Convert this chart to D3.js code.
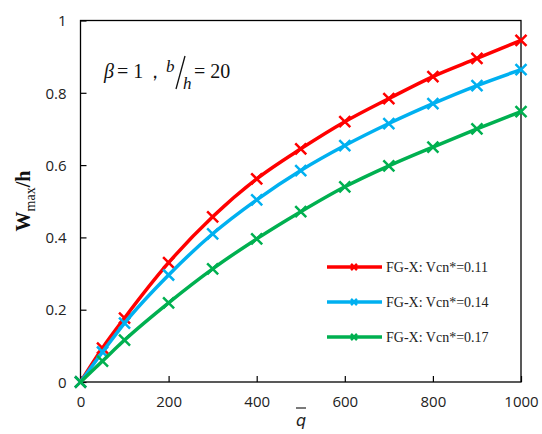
<!DOCTYPE html>
<html>
<head>
<meta charset="utf-8">
<script src="https://cdn.jsdelivr.net/npm/d3@7"></script>
<style>
  body { margin: 0; background: #fff; }
  text { font-family: "Liberation Sans", Arial, sans-serif; }
</style>
</head>
<body>
<div id="chart"></div>
<script>
// Chart data
var loadX = [0, 50, 100, 200, 300, 400, 500, 600, 700, 800, 900, 1000];
var seriesNames = ["FG-X: Vcn*=0.11", "FG-X: Vcn*=0.14", "FG-X: Vcn*=0.17"];
var red = [0, 0.094, 0.177, 0.33, 0.457, 0.562, 0.645, 0.72, 0.784, 0.845, 0.895, 0.945];
var blue = [0, 0.083, 0.163, 0.296, 0.41, 0.504, 0.585, 0.654, 0.715, 0.77, 0.82, 0.864];
var green = [0, 0.058, 0.116, 0.219, 0.313, 0.396, 0.471, 0.54, 0.598, 0.65, 0.70, 0.748];
var xTicks = [0, 200, 400, 600, 800, 1000];
var yTicks = [0, 0.2, 0.4, 0.6, 0.8, 1];
var yTickLabels = ["0", "0.2", "0.4", "0.6", "0.8", "1"];

var colors = ["#ff0000", "#00b0f0", "#00b050"];
var allSeries = [red, blue, green];

var svgWidth = 542;
var svgHeight = 434;
var margin = { top: 20.5, right: 21, bottom: 52, left: 80.5 };
var chartWidth = svgWidth - margin.left - margin.right;
var chartHeight = svgHeight - margin.top - margin.bottom;

var svg = d3.select("#chart")
    .append("svg")
    .attr("width", svgWidth)
    .attr("height", svgHeight);

var chartGroup = svg.append("g")
    .attr("transform", `translate(${margin.left}, ${margin.top})`);

var xScale = d3.scaleLinear().domain([0, 1000]).range([0, chartWidth]);
var yScale = d3.scaleLinear().domain([0, 1]).range([chartHeight, 0]);

// frame
chartGroup.append("rect")
    .attr("width", chartWidth)
    .attr("height", chartHeight)
    .attr("fill", "none")
    .attr("stroke", "#000")
    .attr("stroke-width", 1.3);

// axes with inward ticks
var bottomAxis = d3.axisBottom(xScale).tickValues(xTicks).tickSize(-6).tickPadding(14)
    .tickFormat(d3.format("d"));
var leftAxis = d3.axisLeft(yScale).tickValues(yTicks).tickSize(-6).tickPadding(14)
    .tickFormat((d, i) => yTickLabels[i]);

var xg = chartGroup.append("g")
    .attr("transform", `translate(0, ${chartHeight})`)
    .call(bottomAxis);
var yg = chartGroup.append("g").call(leftAxis);

[xg, yg].forEach(function (g) {
    g.select(".domain").remove();
    g.selectAll(".tick line").attr("stroke", "#000").attr("stroke-width", 1.2);
    g.selectAll(".tick text")
        .style("font-family", "'Open Sans', 'Liberation Sans', sans-serif")
        .style("font-size", "15px")
        .attr("fill", "#222");
});
yg.selectAll(".tick text").attr("dy", "0.35em");

// lines
var line = d3.line()
    .x((d, i) => xScale(loadX[i]))
    .y(d => yScale(d))
    .curve(d3.curveMonotoneX);

allSeries.forEach(function (vals, k) {
    chartGroup.append("path")
        .datum(vals)
        .attr("d", line)
        .attr("fill", "none")
        .attr("stroke", colors[k])
        .attr("stroke-width", 3.5);

    chartGroup.selectAll(".mk" + k)
        .data(vals)
        .enter().append("path")
        .attr("class", "mk" + k)
        .attr("transform", (d, i) => `translate(${xScale(loadX[i])}, ${yScale(d)})`)
        .attr("d", "M-5.5,-5.5L5.5,5.5M-5.5,5.5L5.5,-5.5")
        .attr("stroke", colors[k])
        .attr("stroke-width", 2.5);
});

// legend
var legendY = [267, 302, 337];
seriesNames.forEach(function (name, k) {
    var y = legendY[k] - margin.top;
    var x0 = 327 - margin.left;
    chartGroup.append("line")
        .attr("x1", x0).attr("x2", x0 + 55)
        .attr("y1", y).attr("y2", y)
        .attr("stroke", colors[k]).attr("stroke-width", 3.5);
    chartGroup.append("path")
        .attr("transform", `translate(${x0 + 27}, ${y})`)
        .attr("d", "M-3,-3L3,3M-3,3L3,-3")
        .attr("stroke", colors[k]).attr("stroke-width", 2.5);
    chartGroup.append("text")
        .attr("x", x0 + 59)
        .attr("y", y + 5)
        .style("font-family", "'Liberation Serif', serif")
        .style("font-size", "14px")
        .attr("fill", "#222")
        .text(name);
});

// annotation: beta = 1, b/h = 20
function note(x, y, size, italic, str) {
    svg.append("text")
        .attr("x", x).attr("y", y)
        .style("font-family", "'Liberation Serif', serif")
        .style("font-size", size + "px")
        .style("font-style", italic ? "italic" : "normal")
        .attr("fill", "#111")
        .text(str);
}
note(104, 78, 20, true, "β");
note(117, 78, 20, false, "= 1");
note(145, 78, 20, false, "，");
note(166, 72, 17, true, "b");
svg.append("line")
    .attr("x1", 176).attr("y1", 89)
    .attr("x2", 185).attr("y2", 56)
    .attr("stroke", "#111").attr("stroke-width", 1.3);
note(183, 89, 17, true, "h");
note(194, 78, 20, false, "= 20");

// y axis label
var yl = svg.append("text")
    .attr("transform", "translate(30, 201) rotate(-90)")
    .attr("text-anchor", "middle")
    .style("font-family", "'Liberation Serif', serif")
    .style("font-size", "20px")
    .attr("fill", "#111");
yl.append("tspan").style("font-weight", "bold").text("W");
yl.append("tspan").attr("dy", 5).style("font-size", "14px").text("max");
yl.append("tspan").attr("dy", -5).style("font-weight", "bold").text("/h");

// x axis label with overbar
svg.append("text")
    .attr("x", 301)
    .attr("y", 426)
    .attr("text-anchor", "middle")
    .style("font-family", "'DejaVu Sans', sans-serif")
    .style("font-style", "italic")
    .style("font-size", "16px")
    .attr("fill", "#222")
    .text("q");
svg.append("line")
    .attr("x1", 296).attr("x2", 306)
    .attr("y1", 408).attr("y2", 408)
    .attr("stroke", "#222").attr("stroke-width", 1.2);
</script>
</body>
</html>
